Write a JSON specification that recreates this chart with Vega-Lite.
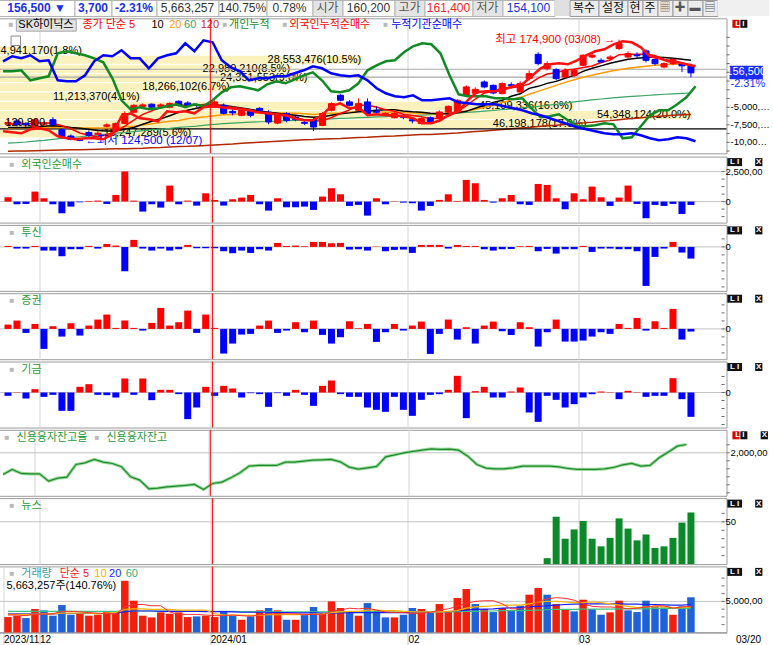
{
"$schema": "https://vega.github.io/schema/vega-lite/v6.json",
"padding": {"left": -4.5, "top": -1, "right": 0, "bottom": 0},
"background": "#ffffff",
"spacing": 0.3,
"config": {
  "view": {"stroke": "#9c9c9c", "strokeWidth": 1},
  "font": "Liberation Sans Narrow, Liberation Sans, Noto Sans CJK KR, sans-serif",
  "axis": {"labelColor": "#000000", "labelFontSize": 11, "titleColor": "#000000"},
  "text": {"fontSize": 11}
},
"datasets": {
"vp": [
{"lo":166000,"hi":171200,"mid":168600,"vol":4941170,"lab":"4,941,170(1.8%)"},
{"lo":161000,"hi":166000,"mid":163500,"vol":28553476,"lab":"28,553,476(10.5%)"},
{"lo":156100,"hi":161000,"mid":158500,"vol":22989210,"lab":"22,989,210(8.5%)"},
{"lo":151400,"hi":156100,"mid":153700,"vol":24351553,"lab":"24,351,553(9.0%)"},
{"lo":146800,"hi":151400,"mid":149100,"vol":18266102,"lab":"18,266,102(6.7%)"},
{"lo":142300,"hi":146800,"mid":144600,"vol":11213370,"lab":"11,213,370(4.1%)"},
{"lo":138000,"hi":142300,"mid":140200,"vol":45109336,"lab":"45,109,336(16.6%)"},
{"lo":133900,"hi":138000,"mid":135900,"vol":54348124,"lab":"54,348,124(20.0%)"},
{"lo":129800,"hi":133900,"mid":131800,"vol":46198178,"lab":"46,198,178(17.0%)"},
{"lo":125900,"hi":129800,"mid":127800,"vol":15247289,"lab":"15,247,289(5.6%)"}
],
"d": [
{"i":0,"o":131800,"h":134000,"l":130900,"c":132600,"m5":131800,"m10":130400,"m20":130200,"m60":123700,"m120":120400,"ind":143000,"frg":-8429000,"ins":1571000,"fn":361000,"tu":30000,"se":130000,"fu":-100000,"cr":1870000,"v":2470000,"vu":1,"v5":2800000,"v10":2900000,"v20":3000000,"v60":3400000},
{"i":1,"o":133200,"h":134000,"l":130900,"c":131600,"m5":132000,"m10":130400,"m20":130300,"m60":123900,"m120":120500,"ind":143000,"frg":-8571000,"ins":2286000,"fn":-222000,"tu":-50000,"se":250000,"fu":10000,"cr":1900000,"v":2690000,"vu":1,"v5":2800000,"v10":2900000,"v20":3000000,"v60":3400000},
{"i":2,"o":132200,"h":132600,"l":130900,"c":131500,"m5":132000,"m10":130400,"m20":130300,"m60":124200,"m120":120500,"ind":286000,"frg":-8714000,"ins":2000000,"fn":-194000,"tu":-50000,"se":-120000,"fu":-180000,"cr":1876000,"v":2310000,"vu":0,"v5":2700000,"v10":2900000,"v20":3000000,"v60":3400000},
{"i":3,"o":130600,"h":134400,"l":130200,"c":133800,"m5":132200,"m10":130700,"m20":130400,"m60":124600,"m120":120600,"ind":-1143000,"frg":-8143000,"ins":2429000,"fn":833000,"tu":30000,"se":150000,"fu":100000,"cr":1874000,"v":3770000,"vu":1,"v5":2900000,"v10":2950000,"v20":3000000,"v60":3400000},
{"i":4,"o":131800,"h":133100,"l":131300,"c":132200,"m5":132400,"m10":130900,"m20":130400,"m60":124900,"m120":120700,"ind":-857000,"frg":-8000000,"ins":1571000,"fn":278000,"tu":-110000,"se":-600000,"fu":-130000,"cr":1874000,"v":3550000,"vu":0,"v5":2950000,"v10":3000000,"v20":3000000,"v60":3400000},
{"i":5,"o":133800,"h":134900,"l":131300,"c":131600,"m5":132200,"m10":131100,"m20":130500,"m60":125300,"m120":120800,"ind":-571000,"frg":-8286000,"ins":1714000,"fn":-222000,"tu":-110000,"se":80000,"fu":-70000,"cr":1830000,"v":2690000,"vu":0,"v5":3000000,"v10":3000000,"v20":3000000,"v60":3400000},
{"i":6,"o":129400,"h":130000,"l":125700,"c":126300,"m5":131100,"m10":130900,"m20":130400,"m60":125700,"m120":120900,"ind":2714000,"frg":-9143000,"ins":-1143000,"fn":-972000,"tu":-280000,"se":-230000,"fu":-550000,"cr":1848000,"v":4410000,"vu":0,"v5":3400000,"v10":3100000,"v20":3050000,"v60":3400000},
{"i":7,"o":126700,"h":127400,"l":124900,"c":125300,"m5":129800,"m10":130400,"m20":130300,"m60":126000,"m120":121000,"ind":3000000,"frg":-9429000,"ins":-1286000,"fn":-417000,"tu":-70000,"se":170000,"fu":-550000,"cr":1854000,"v":2850000,"vu":0,"v5":3400000,"v10":3100000,"v20":3050000,"v60":3400000},
{"i":8,"o":125100,"h":125700,"l":124500,"c":124900,"m5":128000,"m10":130000,"m20":130200,"m60":126400,"m120":121000,"ind":2714000,"frg":-9571000,"ins":-1286000,"fn":-56000,"tu":-70000,"se":-200000,"fu":170000,"cr":1930000,"v":3120000,"vu":1,"v5":3300000,"v10":3100000,"v20":3050000,"v60":3400000},
{"i":9,"o":128200,"h":129100,"l":126200,"c":127000,"m5":127000,"m10":129600,"m20":130100,"m60":126800,"m120":121100,"ind":2429000,"frg":-9429000,"ins":-429000,"fn":56000,"tu":30000,"se":100000,"fu":250000,"cr":1940000,"v":2690000,"vu":1,"v5":3200000,"v10":3100000,"v20":3050000,"v60":3400000},
{"i":10,"o":127400,"h":128700,"l":127000,"c":127900,"m5":126300,"m10":129100,"m20":130100,"m60":127100,"m120":121200,"ind":2000000,"frg":-9429000,"ins":1571000,"fn":83000,"tu":-50000,"se":280000,"fu":-70000,"cr":1960000,"v":2850000,"vu":1,"v5":3100000,"v10":3000000,"v20":3050000,"v60":3400000},
{"i":11,"o":130900,"h":132200,"l":130400,"c":131500,"m5":127300,"m10":128900,"m20":130200,"m60":127500,"m120":121300,"ind":1429000,"frg":-9571000,"ins":2429000,"fn":-194000,"tu":90000,"se":430000,"fu":-80000,"cr":1944000,"v":3390000,"vu":1,"v5":3000000,"v10":3100000,"v20":3050000,"v60":3400000},
{"i":12,"o":129100,"h":132600,"l":128700,"c":132100,"m5":128600,"m10":128900,"m20":130300,"m60":127900,"m120":121400,"ind":-857000,"frg":-8857000,"ins":2286000,"fn":556000,"tu":40000,"se":30000,"fu":-150000,"cr":1936000,"v":3120000,"vu":1,"v5":3000000,"v10":3200000,"v20":3100000,"v60":3400000},
{"i":13,"o":132100,"h":137600,"l":131800,"c":136600,"m5":131000,"m10":129600,"m20":130700,"m60":128200,"m120":121400,"ind":-4000000,"frg":-6286000,"ins":3143000,"fn":2500000,"tu":-730000,"se":250000,"fu":420000,"cr":1916000,"v":8340000,"vu":1,"v5":4100000,"v10":3700000,"v20":3350000,"v60":3450000},
{"i":14,"o":137200,"h":140900,"l":136700,"c":140400,"m5":133600,"m10":130400,"m20":130900,"m60":128600,"m120":121500,"ind":-5286000,"frg":-5857000,"ins":2000000,"fn":83000,"tu":210000,"se":30000,"fu":-70000,"cr":1856000,"v":5110000,"vu":1,"v5":4500000,"v10":3800000,"v20":3450000,"v60":3450000},
{"i":15,"o":139900,"h":141300,"l":139500,"c":140600,"m5":136200,"m10":131800,"m20":131500,"m60":129000,"m120":121600,"ind":-5000000,"frg":-6571000,"ins":2000000,"fn":-833000,"tu":-50000,"se":-50000,"fu":420000,"cr":1836000,"v":2690000,"vu":1,"v5":4500000,"v10":3800000,"v20":3450000,"v60":3450000},
{"i":16,"o":140900,"h":141300,"l":139000,"c":139500,"m5":137800,"m10":133100,"m20":132000,"m60":129400,"m120":121800,"ind":-5286000,"frg":-6714000,"ins":571000,"fn":-222000,"tu":-110000,"se":180000,"fu":-230000,"cr":1784000,"v":2420000,"vu":1,"v5":4300000,"v10":3700000,"v20":3450000,"v60":3450000},
{"i":17,"o":139900,"h":141300,"l":139500,"c":140600,"m5":139500,"m10":134200,"m20":132600,"m60":129700,"m120":121900,"ind":-5143000,"frg":-7000000,"ins":2000000,"fn":-500000,"tu":-50000,"se":630000,"fu":80000,"cr":1788000,"v":3230000,"vu":1,"v5":4300000,"v10":3700000,"v20":3400000,"v60":3450000},
{"i":18,"o":139500,"h":141800,"l":139000,"c":141300,"m5":140500,"m10":135600,"m20":133100,"m60":130000,"m120":122100,"ind":-4857000,"frg":-5571000,"ins":2429000,"fn":1333000,"tu":-110000,"se":100000,"fu":80000,"cr":1796000,"v":3010000,"vu":1,"v5":3300000,"v10":3700000,"v20":3400000,"v60":3450000},
{"i":19,"o":142300,"h":142800,"l":139900,"c":140400,"m5":140500,"m10":137200,"m20":133500,"m60":130400,"m120":122300,"ind":-4571000,"frg":-5714000,"ins":2714000,"fn":-222000,"tu":-70000,"se":200000,"fu":-50000,"cr":1800000,"v":3230000,"vu":1,"v5":2900000,"v10":3600000,"v20":3400000,"v60":3450000},
{"i":20,"o":141500,"h":142300,"l":139900,"c":140400,"m5":140400,"m10":138100,"m20":134200,"m60":130700,"m120":122400,"ind":-5000000,"frg":-5571000,"ins":4143000,"fn":83000,"tu":60000,"se":550000,"fu":-800000,"cr":1804000,"v":2470000,"vu":1,"v5":2900000,"v10":3600000,"v20":3400000,"v60":3450000},
{"i":21,"o":140600,"h":141300,"l":139500,"c":140400,"m5":140600,"m10":139000,"m20":134700,"m60":131000,"m120":122600,"ind":-4571000,"frg":-5857000,"ins":3000000,"fn":-333000,"tu":-40000,"se":-120000,"fu":-450000,"cr":1810000,"v":2580000,"vu":0,"v5":2900000,"v10":3600000,"v20":3400000,"v60":3450000},
{"i":22,"o":139900,"h":141300,"l":139500,"c":140900,"m5":140700,"m10":139900,"m20":135100,"m60":131400,"m120":122800,"ind":-4857000,"frg":-5000000,"ins":4571000,"fn":694000,"tu":-40000,"se":430000,"fu":170000,"cr":1780000,"v":2690000,"vu":1,"v5":2800000,"v10":3600000,"v20":3350000,"v60":3450000},
{"i":23,"o":139600,"h":142800,"l":139200,"c":142000,"m5":140800,"m10":140400,"m20":135600,"m60":131700,"m120":123000,"ind":-4000000,"frg":-4857000,"ins":4286000,"fn":139000,"tu":-40000,"se":30000,"fu":-100000,"cr":1816000,"v":2470000,"vu":1,"v5":2700000,"v10":3000000,"v20":3350000,"v60":3400000},
{"i":24,"o":140400,"h":141300,"l":136200,"c":136700,"m5":140100,"m10":140400,"m20":136000,"m60":132100,"m120":123200,"ind":-2857000,"frg":-5000000,"ins":1714000,"fn":-333000,"tu":-130000,"se":-740000,"fu":200000,"cr":1824000,"v":3390000,"vu":0,"v5":2700000,"v10":2800000,"v20":3350000,"v60":3400000},
{"i":25,"o":137600,"h":139000,"l":135800,"c":136900,"m5":139400,"m10":139700,"m20":136200,"m60":132300,"m120":123400,"ind":-2143000,"frg":-5143000,"ins":714000,"fn":194000,"tu":-190000,"se":-440000,"fu":120000,"cr":1850000,"v":2740000,"vu":0,"v5":2800000,"v10":2800000,"v20":3300000,"v60":3400000},
{"i":26,"o":135800,"h":138500,"l":135300,"c":138100,"m5":138900,"m10":139200,"m20":136500,"m60":132500,"m120":123700,"ind":-2000000,"frg":-5286000,"ins":143000,"fn":333000,"tu":-110000,"se":-170000,"fu":-150000,"cr":1880000,"v":2040000,"vu":1,"v5":2700000,"v10":2800000,"v20":3250000,"v60":3350000},
{"i":27,"o":137800,"h":138500,"l":134900,"c":135800,"m5":137900,"m10":138500,"m20":136700,"m60":132700,"m120":123900,"ind":-2286000,"frg":-5429000,"ins":-1143000,"fn":556000,"tu":-180000,"se":-150000,"fu":-20000,"cr":1920000,"v":2580000,"vu":0,"v5":2600000,"v10":2750000,"v20":3250000,"v60":3350000},
{"i":28,"o":139000,"h":139500,"l":137600,"c":138100,"m5":137100,"m10":137800,"m20":136900,"m60":132900,"m120":124100,"ind":-2571000,"frg":-5714000,"ins":-857000,"fn":-222000,"tu":-70000,"se":100000,"fu":-50000,"cr":1924000,"v":3550000,"vu":1,"v5":2800000,"v10":2750000,"v20":3250000,"v60":3350000},
{"i":29,"o":137200,"h":138100,"l":131800,"c":132800,"m5":136300,"m10":137200,"m20":136900,"m60":133000,"m120":124300,"ind":-1714000,"frg":-5857000,"ins":-857000,"fn":-750000,"tu":-110000,"se":250000,"fu":-430000,"cr":1924000,"v":3930000,"vu":0,"v5":3000000,"v10":2850000,"v20":3250000,"v60":3350000},
{"i":30,"o":132300,"h":136700,"l":131800,"c":136100,"m5":136200,"m10":136700,"m20":136900,"m60":133200,"m120":124500,"ind":-1286000,"frg":-6000000,"ins":-571000,"fn":278000,"tu":120000,"se":-120000,"fu":-20000,"cr":1924000,"v":3550000,"vu":1,"v5":3000000,"v10":2900000,"v20":3200000,"v60":3300000},
{"i":31,"o":136600,"h":137200,"l":132600,"c":133500,"m5":135200,"m10":136200,"m20":136900,"m60":133400,"m120":124700,"ind":-1571000,"frg":-6143000,"ins":-571000,"fn":-472000,"tu":30000,"se":-50000,"fu":-100000,"cr":1944000,"v":2040000,"vu":0,"v5":3000000,"v10":2850000,"v20":3200000,"v60":3300000},
{"i":32,"o":135000,"h":135800,"l":133100,"c":133800,"m5":134800,"m10":135800,"m20":136700,"m60":133500,"m120":124900,"ind":-1000000,"frg":-6571000,"ins":-143000,"fn":-472000,"tu":40000,"se":200000,"fu":80000,"cr":1944000,"v":2040000,"vu":1,"v5":3000000,"v10":2850000,"v20":3150000,"v60":3300000},
{"i":33,"o":132600,"h":133500,"l":131500,"c":132200,"m5":133700,"m10":135300,"m20":136500,"m60":133700,"m120":125100,"ind":-429000,"frg":-6857000,"ins":286000,"fn":-417000,"tu":20000,"se":-100000,"fu":-70000,"cr":1950000,"v":2850000,"vu":0,"v5":2900000,"v10":2850000,"v20":3150000,"v60":3300000},
{"i":34,"o":133800,"h":134900,"l":128800,"c":130600,"m5":133200,"m10":134900,"m20":136200,"m60":133900,"m120":125200,"ind":0,"frg":-6857000,"ins":857000,"fn":-694000,"tu":150000,"se":250000,"fu":-400000,"cr":1956000,"v":4090000,"vu":0,"v5":2900000,"v10":2950000,"v20":3150000,"v60":3300000},
{"i":35,"o":131300,"h":137200,"l":130900,"c":136600,"m5":133300,"m10":135100,"m20":136500,"m60":134000,"m120":125400,"ind":-1143000,"frg":-6143000,"ins":571000,"fn":417000,"tu":150000,"se":-180000,"fu":200000,"cr":1958000,"v":3120000,"vu":1,"v5":2800000,"v10":3000000,"v20":3100000,"v60":3300000},
{"i":36,"o":138100,"h":141800,"l":137600,"c":141200,"m5":134800,"m10":135800,"m20":136700,"m60":134200,"m120":125600,"ind":-2714000,"frg":-4857000,"ins":-143000,"fn":1111000,"tu":110000,"se":-440000,"fu":360000,"cr":1960000,"v":5000000,"vu":1,"v5":3400000,"v10":3200000,"v20":3100000,"v60":3300000},
{"i":37,"o":145200,"h":145700,"l":142300,"c":142800,"m5":136600,"m10":136500,"m20":136900,"m60":134400,"m120":125700,"ind":-2857000,"frg":-4429000,"ins":-429000,"fn":611000,"tu":120000,"se":-250000,"fu":-50000,"cr":1946000,"v":3930000,"vu":1,"v5":3600000,"v10":3300000,"v20":3150000,"v60":3300000},
{"i":38,"o":142000,"h":142800,"l":139900,"c":140400,"m5":138300,"m10":136900,"m20":137200,"m60":134500,"m120":125900,"ind":-2571000,"frg":-5143000,"ins":-571000,"fn":-361000,"tu":-80000,"se":230000,"fu":-130000,"cr":1914000,"v":3120000,"vu":0,"v5":3900000,"v10":3400000,"v20":3200000,"v60":3300000},
{"i":39,"o":138100,"h":143700,"l":137600,"c":141200,"m5":140400,"m10":137400,"m20":137400,"m60":134700,"m120":126100,"ind":-1571000,"frg":-5000000,"ins":-429000,"fn":-278000,"tu":-70000,"se":20000,"fu":-130000,"cr":1902000,"v":2690000,"vu":1,"v5":3800000,"v10":3400000,"v20":3200000,"v60":3300000},
{"i":40,"o":142000,"h":143700,"l":135800,"c":136600,"m5":140400,"m10":137600,"m20":137400,"m60":134900,"m120":126200,"ind":286000,"frg":-6143000,"ins":-1143000,"fn":-1167000,"tu":-110000,"se":150000,"fu":-450000,"cr":1910000,"v":4730000,"vu":0,"v5":3900000,"v10":3600000,"v20":3200000,"v60":3300000},
{"i":41,"o":137600,"h":139900,"l":136200,"c":137200,"m5":139600,"m10":138100,"m20":137400,"m60":135100,"m120":126400,"ind":1000000,"frg":-6000000,"ins":-2286000,"fn":278000,"tu":10000,"se":-390000,"fu":-520000,"cr":1918000,"v":3550000,"vu":0,"v5":3600000,"v10":3600000,"v20":3200000,"v60":3300000},
{"i":42,"o":135800,"h":137200,"l":135300,"c":136600,"m5":138300,"m10":138300,"m20":137200,"m60":135200,"m120":126600,"ind":1571000,"frg":-6143000,"ins":-3000000,"fn":-222000,"tu":-130000,"se":-100000,"fu":-580000,"cr":1976000,"v":2420000,"vu":0,"v5":3300000,"v10":3500000,"v20":3200000,"v60":3300000},
{"i":43,"o":134700,"h":137200,"l":134400,"c":136600,"m5":137600,"m10":138300,"m20":137200,"m60":135400,"m120":126700,"ind":1714000,"frg":-6143000,"ins":-3429000,"fn":28000,"tu":-90000,"se":150000,"fu":-130000,"cr":1988000,"v":2420000,"vu":1,"v5":3200000,"v10":3500000,"v20":3200000,"v60":3300000},
{"i":44,"o":135300,"h":136200,"l":134000,"c":134900,"m5":136300,"m10":137800,"m20":137200,"m60":135600,"m120":126900,"ind":2857000,"frg":-6286000,"ins":-3571000,"fn":-83000,"tu":-80000,"se":-50000,"fu":-520000,"cr":2000000,"v":2850000,"vu":0,"v5":3200000,"v10":3400000,"v20":3200000,"v60":3300000},
{"i":45,"o":133800,"h":134900,"l":132200,"c":133300,"m5":135700,"m10":137400,"m20":136900,"m60":135700,"m120":127100,"ind":3714000,"frg":-6571000,"ins":-3286000,"fn":-139000,"tu":-180000,"se":100000,"fu":-700000,"cr":2008000,"v":3930000,"vu":0,"v5":3000000,"v10":3300000,"v20":3250000,"v60":3300000},
{"i":46,"o":132100,"h":134900,"l":131800,"c":134300,"m5":135100,"m10":137200,"m20":136700,"m60":135900,"m120":127300,"ind":4143000,"frg":-7286000,"ins":-4000000,"fn":-750000,"tu":60000,"se":220000,"fu":-220000,"cr":2016000,"v":3770000,"vu":1,"v5":3100000,"v10":3300000,"v20":3300000,"v60":3300000},
{"i":47,"o":134700,"h":135300,"l":131800,"c":132300,"m5":134300,"m10":136700,"m20":136500,"m60":136100,"m120":127400,"ind":4000000,"frg":-7286000,"ins":-4000000,"fn":-361000,"tu":60000,"se":-750000,"fu":-70000,"cr":2024000,"v":3120000,"vu":0,"v5":3200000,"v10":3300000,"v20":3300000,"v60":3300000},
{"i":48,"o":134300,"h":138100,"l":134000,"c":137300,"m5":134400,"m10":136500,"m20":136500,"m60":136300,"m120":127600,"ind":2714000,"frg":-6857000,"ins":-3857000,"fn":139000,"tu":60000,"se":-150000,"fu":-50000,"cr":2020000,"v":4570000,"vu":1,"v5":3600000,"v10":3300000,"v20":3350000,"v60":3300000},
{"i":49,"o":137200,"h":140400,"l":136700,"c":139900,"m5":135400,"m10":136500,"m20":136500,"m60":136600,"m120":127800,"ind":-429000,"frg":-6000000,"ins":-3714000,"fn":611000,"tu":-50000,"se":280000,"fu":80000,"cr":2022000,"v":3390000,"vu":1,"v5":3800000,"v10":3400000,"v20":3350000,"v60":3300000},
{"i":50,"o":137300,"h":143300,"l":136900,"c":142800,"m5":137300,"m10":136900,"m20":137200,"m60":136800,"m120":128000,"ind":-3143000,"frg":-5571000,"ins":-4286000,"fn":56000,"tu":60000,"se":-320000,"fu":500000,"cr":2016000,"v":5540000,"vu":1,"v5":4200000,"v10":3500000,"v20":3450000,"v60":3350000},
{"i":51,"o":145200,"h":150100,"l":144700,"c":149300,"m5":140200,"m10":137600,"m20":137800,"m60":137100,"m120":128300,"ind":-3429000,"frg":-4000000,"ins":-4429000,"fn":1806000,"tu":30000,"se":50000,"fu":-770000,"cr":1980000,"v":6990000,"vu":1,"v5":4700000,"v10":3900000,"v20":3600000,"v60":3400000},
{"i":52,"o":146200,"h":149100,"l":145700,"c":148100,"m5":143400,"m10":139000,"m20":138500,"m60":137400,"m120":128600,"ind":-3429000,"frg":-2857000,"ins":-4571000,"fn":1528000,"tu":30000,"se":-440000,"fu":40000,"cr":1930000,"v":4570000,"vu":0,"v5":5000000,"v10":4100000,"v20":3700000,"v60":3400000},
{"i":53,"o":151800,"h":152600,"l":148600,"c":149300,"m5":146300,"m10":140400,"m20":139500,"m60":137700,"m120":128900,"ind":-3429000,"frg":-2714000,"ins":-4571000,"fn":139000,"tu":-70000,"se":100000,"fu":170000,"cr":1908000,"v":3770000,"vu":1,"v5":5100000,"v10":4200000,"v20":3750000,"v60":3450000},
{"i":54,"o":150100,"h":150600,"l":145700,"c":146300,"m5":147100,"m10":141800,"m20":140400,"m60":138000,"m120":129200,"ind":-3714000,"frg":-2714000,"ins":-4571000,"fn":-83000,"tu":-110000,"se":220000,"fu":-150000,"cr":1904000,"v":3280000,"vu":0,"v5":5100000,"v10":4300000,"v20":3800000,"v60":3450000},
{"i":55,"o":146000,"h":151600,"l":145700,"c":151000,"m5":148800,"m10":142800,"m20":141800,"m60":138400,"m120":129500,"ind":-3714000,"frg":-2429000,"ins":-4857000,"fn":278000,"tu":-70000,"se":-70000,"fu":-150000,"cr":1904000,"v":3930000,"vu":1,"v5":4600000,"v10":4400000,"v20":3900000,"v60":3500000},
{"i":56,"o":150400,"h":151600,"l":148600,"c":149900,"m5":148900,"m10":144700,"m20":143000,"m60":138700,"m120":129800,"ind":-3857000,"frg":-2000000,"ins":-5143000,"fn":556000,"tu":-60000,"se":-180000,"fu":30000,"cr":1910000,"v":3500000,"vu":0,"v5":3800000,"v10":4400000,"v20":3950000,"v60":3500000},
{"i":57,"o":146800,"h":152100,"l":146600,"c":151000,"m5":149500,"m10":145900,"m20":144200,"m60":139100,"m120":130100,"ind":-3714000,"frg":-1714000,"ins":-5429000,"fn":-222000,"tu":20000,"se":200000,"fu":150000,"cr":1920000,"v":4300000,"vu":0,"v5":3800000,"v10":4400000,"v20":4000000,"v60":3500000},
{"i":58,"o":153500,"h":157800,"l":152600,"c":156100,"m5":150800,"m10":148600,"m20":145700,"m60":139500,"m120":130400,"ind":-5143000,"frg":-571000,"ins":-5857000,"fn":-278000,"tu":30000,"se":50000,"fu":-600000,"cr":1920000,"v":6080000,"vu":1,"v5":4200000,"v10":4600000,"v20":4100000,"v60":3550000},
{"i":59,"o":166500,"h":167600,"l":160500,"c":161400,"m5":153800,"m10":149600,"m20":147100,"m60":139900,"m120":130800,"ind":-6429000,"frg":571000,"ins":-6143000,"fn":1472000,"tu":-130000,"se":-530000,"fu":-880000,"cr":1920000,"v":7160000,"vu":1,"v5":5000000,"v10":4900000,"v20":4200000,"v60":3600000},
{"i":60,"o":158700,"h":162700,"l":157800,"c":161400,"m5":155900,"m10":151100,"m20":148600,"m60":140400,"m120":131100,"ind":-6286000,"frg":1143000,"ins":-6571000,"fn":1389000,"tu":-60000,"se":-100000,"fu":-100000,"cr":1920000,"nw":7,"v":6080000,"vu":0,"v5":5400000,"v10":5000000,"v20":4300000,"v60":3650000},
{"i":61,"o":158200,"h":158900,"l":152600,"c":153500,"m5":156600,"m10":152100,"m20":150100,"m60":140900,"m120":131300,"ind":-6000000,"frg":1286000,"ins":-7000000,"fn":278000,"tu":-200000,"se":280000,"fu":-220000,"cr":1916000,"nw":56,"v":4570000,"vu":1,"v5":5600000,"v10":5000000,"v20":4400000,"v60":3700000},
{"i":62,"o":154300,"h":158900,"l":153700,"c":157800,"m5":158000,"m10":153700,"m20":151600,"m60":141400,"m120":131700,"ind":-6857000,"frg":1143000,"ins":-7429000,"fn":-639000,"tu":-70000,"se":-380000,"fu":-450000,"cr":1906000,"nw":30,"v":3770000,"vu":1,"v5":5500000,"v10":4900000,"v20":4500000,"v60":3700000},
{"i":63,"o":155200,"h":158900,"l":154200,"c":157800,"m5":158400,"m10":155200,"m20":152900,"m60":142000,"m120":132000,"ind":-7714000,"frg":1714000,"ins":-7857000,"fn":694000,"tu":-70000,"se":-380000,"fu":-350000,"cr":1900000,"nw":41,"v":3390000,"vu":0,"v5":5200000,"v10":4800000,"v20":4550000,"v60":3700000},
{"i":64,"o":160500,"h":166500,"l":160000,"c":166000,"m5":159300,"m10":157300,"m20":154200,"m60":142500,"m120":132400,"ind":-7714000,"frg":2429000,"ins":-8143000,"fn":194000,"tu":30000,"se":-350000,"fu":-150000,"cr":1900000,"nw":51,"v":5270000,"vu":1,"v5":4600000,"v10":4800000,"v20":4600000,"v60":3750000},
{"i":65,"o":165000,"h":167100,"l":164300,"c":166000,"m5":160100,"m10":158900,"m20":155200,"m60":143000,"m120":132700,"ind":-7571000,"frg":3000000,"ins":-8429000,"fn":1250000,"tu":-150000,"se":-230000,"fu":-50000,"cr":1900000,"nw":30,"v":3770000,"vu":0,"v5":4200000,"v10":4900000,"v20":4600000,"v60":3750000},
{"i":66,"o":163200,"h":164300,"l":161600,"c":162300,"m5":162000,"m10":160200,"m20":156300,"m60":143400,"m120":133100,"ind":-7286000,"frg":3286000,"ins":-8714000,"fn":361000,"tu":-50000,"se":-100000,"fu":30000,"cr":1904000,"nw":21,"v":2850000,"vu":0,"v5":4100000,"v10":4800000,"v20":4600000,"v60":3750000},
{"i":67,"o":164100,"h":166000,"l":163200,"c":165000,"m5":163400,"m10":161600,"m20":157300,"m60":143800,"m120":133400,"ind":-7429000,"frg":4000000,"ins":-8857000,"fn":-361000,"tu":-50000,"se":-150000,"fu":10000,"cr":1912000,"nw":31,"v":3230000,"vu":1,"v5":4100000,"v10":4600000,"v20":4600000,"v60":3750000},
{"i":68,"o":169800,"h":174900,"l":168800,"c":172600,"m5":166300,"m10":162700,"m20":158100,"m60":144200,"m120":133800,"ind":-9429000,"frg":4429000,"ins":-8857000,"fn":333000,"tu":-70000,"se":150000,"fu":-200000,"cr":1928000,"nw":54,"v":5110000,"vu":1,"v5":4000000,"v10":4400000,"v20":4600000,"v60":3800000},
{"i":69,"o":165000,"h":168200,"l":164300,"c":166900,"m5":166500,"m10":163800,"m20":158900,"m60":144500,"m120":134200,"ind":-9286000,"frg":4286000,"ins":-8714000,"fn":1333000,"tu":-70000,"se":30000,"fu":50000,"cr":1936000,"nw":42,"v":3550000,"vu":0,"v5":3800000,"v10":4200000,"v20":4550000,"v60":3800000},
{"i":70,"o":166200,"h":167600,"l":164300,"c":165700,"m5":166500,"m10":164300,"m20":159400,"m60":144800,"m120":134500,"ind":-7714000,"frg":3571000,"ins":-9000000,"fn":-194000,"tu":-130000,"se":330000,"fu":10000,"cr":1920000,"nw":28,"v":3280000,"vu":0,"v5":3900000,"v10":4000000,"v20":4550000,"v60":3800000},
{"i":71,"o":168400,"h":169300,"l":162100,"c":163200,"m5":166600,"m10":164800,"m20":160000,"m60":145100,"m120":134900,"ind":-6143000,"frg":2286000,"ins":-9429000,"fn":-1389000,"tu":-1170000,"se":-50000,"fu":-130000,"cr":1924000,"nw":35,"v":5110000,"vu":0,"v5":4100000,"v10":4100000,"v20":4500000,"v60":3800000},
{"i":72,"o":163600,"h":164300,"l":160500,"c":161400,"m5":165800,"m10":165000,"m20":160500,"m60":145400,"m120":135200,"ind":-5429000,"frg":2000000,"ins":-9714000,"fn":-278000,"tu":-300000,"se":230000,"fu":-100000,"cr":1970000,"nw":19,"v":4200000,"vu":0,"v5":4300000,"v10":4100000,"v20":4500000,"v60":3850000},
{"i":73,"o":159600,"h":162100,"l":158900,"c":161400,"m5":163700,"m10":164800,"m20":160800,"m60":145700,"m120":135500,"ind":-5429000,"frg":1571000,"ins":-9571000,"fn":-361000,"tu":-50000,"se":30000,"fu":-100000,"cr":2004000,"nw":21,"v":4030000,"vu":0,"v5":4300000,"v10":4100000,"v20":4450000,"v60":3850000},
{"i":74,"o":161400,"h":164300,"l":160500,"c":163600,"m5":163000,"m10":164300,"m20":161000,"m60":145900,"m120":135800,"ind":-4571000,"frg":1429000,"ins":-9286000,"fn":-194000,"tu":150000,"se":600000,"fu":430000,"cr":2040000,"nw":31,"v":2850000,"vu":1,"v5":3900000,"v10":4000000,"v20":4400000,"v60":3850000},
{"i":75,"o":161400,"h":162100,"l":156900,"c":160200,"m5":161800,"m10":163800,"m20":161000,"m60":146100,"m120":136100,"ind":-3571000,"frg":1143000,"ins":-9429000,"fn":-1028000,"tu":-170000,"se":-320000,"fu":-200000,"cr":2050000,"nw":49,"v":4200000,"vu":0,"v5":4100000,"v10":4000000,"v20":4400000,"v60":3850000},
{"i":76,"o":160200,"h":161400,"l":154100,"c":156500,"m5":160700,"m10":163200,"m20":160200,"m60":146300,"m120":136200,"ind":-2000000,"frg":857000,"ins":-9857000,"fn":-278000,"tu":-350000,"se":-80000,"fu":-730000,"nw":61,"v":5663257,"vu":0,"v5":4200000,"v10":4100000,"v20":4500000,"v60":3900000}
]
},
"vconcat": [
{
 "hconcat": [
  {"width": 76, "height": 16, "view": {"fill": "#ffffff", "stroke": "#b4b4b4"}, "data": {"values": [{}]}, "mark": {"type": "text", "fontSize": 12, "fontWeight": "bold", "color": "#1a30e8"}, "encoding": {"text": {"value": "156,500 ▼"}}},
  {"width": 37, "height": 16, "view": {"fill": "#ffffff", "stroke": "#b4b4b4"}, "data": {"values": [{}]}, "mark": {"type": "text", "fontSize": 12, "fontWeight": "bold", "color": "#1a30e8"}, "encoding": {"text": {"value": "3,700"}}},
  {"width": 45, "height": 16, "view": {"fill": "#ffffff", "stroke": "#b4b4b4"}, "data": {"values": [{}]}, "mark": {"type": "text", "fontSize": 12, "fontWeight": "bold", "color": "#1a30e8"}, "encoding": {"text": {"value": "-2.31%"}}},
  {"width": 62, "height": 16, "view": {"fill": "#ffffff", "stroke": "#b4b4b4"}, "data": {"values": [{}]}, "mark": {"type": "text", "fontSize": 12, "color": "#333333"}, "encoding": {"text": {"value": "5,663,257"}}},
  {"width": 48, "height": 16, "view": {"fill": "#ffffff", "stroke": "#b4b4b4"}, "data": {"values": [{}]}, "mark": {"type": "text", "fontSize": 12, "color": "#333333"}, "encoding": {"text": {"value": "140.75%"}}},
  {"width": 46, "height": 16, "view": {"fill": "#ffffff", "stroke": "#b4b4b4"}, "data": {"values": [{}]}, "mark": {"type": "text", "fontSize": 12, "color": "#333333"}, "encoding": {"text": {"value": "0.78%"}}},
  {"width": 30, "height": 16, "view": {"fill": "#e4e4e4", "stroke": "#b4b4b4"}, "data": {"values": [{}]}, "mark": {"type": "text", "fontSize": 12, "color": "#555555"}, "encoding": {"text": {"value": "시가"}}},
  {"width": 52, "height": 16, "view": {"fill": "#ffffff", "stroke": "#b4b4b4"}, "data": {"values": [{}]}, "mark": {"type": "text", "fontSize": 12, "color": "#333333"}, "encoding": {"text": {"value": "160,200"}}},
  {"width": 30, "height": 16, "view": {"fill": "#e4e4e4", "stroke": "#b4b4b4"}, "data": {"values": [{}]}, "mark": {"type": "text", "fontSize": 12, "color": "#555555"}, "encoding": {"text": {"value": "고가"}}},
  {"width": 48, "height": 16, "view": {"fill": "#ffffff", "stroke": "#b4b4b4"}, "data": {"values": [{}]}, "mark": {"type": "text", "fontSize": 12, "color": "#ff2020"}, "encoding": {"text": {"value": "161,400"}}},
  {"width": 30, "height": 16, "view": {"fill": "#e4e4e4", "stroke": "#b4b4b4"}, "data": {"values": [{}]}, "mark": {"type": "text", "fontSize": 12, "color": "#555555"}, "encoding": {"text": {"value": "저가"}}},
  {"width": 52, "height": 16, "view": {"fill": "#ffffff", "stroke": "#b4b4b4"}, "data": {"values": [{}]}, "mark": {"type": "text", "fontSize": 12, "color": "#1a30e8"}, "encoding": {"text": {"value": "154,100"}}},
  {"width": 15, "height": 16, "view": {"fill": "#e0e0e0", "stroke": null}, "data": {"values": [{}]}, "mark": {"type": "text", "fontSize": 12}, "encoding": {"text": {"value": ""}}},
  {"width": 29, "height": 16, "view": {"fill": "#ececec", "stroke": "#9a9a9a"}, "data": {"values": [{}]}, "mark": {"type": "text", "fontSize": 12, "color": "#111111"}, "encoding": {"text": {"value": "복수"}}},
  {"width": 29, "height": 16, "view": {"fill": "#ececec", "stroke": "#9a9a9a"}, "data": {"values": [{}]}, "mark": {"type": "text", "fontSize": 12, "color": "#111111"}, "encoding": {"text": {"value": "설정"}}},
  {"width": 15, "height": 16, "view": {"fill": "#ececec", "stroke": "#9a9a9a"}, "data": {"values": [{}]}, "mark": {"type": "text", "fontSize": 12, "color": "#111111"}, "encoding": {"text": {"value": "현"}}},
  {"width": 15, "height": 16, "view": {"fill": "#ececec", "stroke": "#9a9a9a"}, "data": {"values": [{}]}, "mark": {"type": "text", "fontSize": 12, "color": "#111111"}, "encoding": {"text": {"value": "주"}}},
  {"width": 15, "height": 16, "view": {"fill": "#ececec", "stroke": "#9a9a9a"}, "data": {"values": [{}]}, "mark": {"type": "text", "fontSize": 11, "color": "#777777"}, "encoding": {"text": {"value": "▦"}}},
  {"width": 15, "height": 16, "view": {"fill": "#ececec", "stroke": "#9a9a9a"}, "data": {"values": [{}]}, "mark": {"type": "text", "fontSize": 11, "color": "#555555"}, "encoding": {"text": {"value": "✚"}}},
  {"width": 15, "height": 16, "view": {"fill": "#ececec", "stroke": "#9a9a9a"}, "data": {"values": [{}]}, "mark": {"type": "text", "fontSize": 11, "color": "#555555"}, "encoding": {"text": {"value": "▬"}}},
  {"width": 15, "height": 16, "view": {"fill": "#ececec", "stroke": "#9a9a9a"}, "data": {"values": [{}]}, "mark": {"type": "text", "fontSize": 11, "color": "#555555"}, "encoding": {"text": {"value": "▤"}}},
  {"width": 52, "height": 16, "view": {"fill": "#f0f0f0", "stroke": null}, "data": {"values": [{}]}, "mark": {"type": "text", "fontSize": 12}, "encoding": {"text": {"value": ""}}}
 ],
 "spacing": 0,
 "bounds": "flush"
},
{
 "width": 728, "height": 135,
 "layer": [
  {
   "data": {"name": "vp"},
   "layer": [
    {"mark": {"type": "rect", "fill": "#fbf1bc", "stroke": "#ffffff", "strokeWidth": 1},
     "encoding": {
      "x": {"field": "vol", "type": "quantitative", "scale": {"domain": [0, 57011000], "nice": false, "zero": true}, "axis": null},
      "x2": {"datum": 0},
      "y": {"field": "hi", "type": "quantitative", "scale": {"type": "log", "domain": [119595, 187810], "nice": false, "zero": false}, "axis": null},
      "y2": {"field": "lo"}}},
    {"transform": [{"filter": "datum.vol >= 8000000"}],
     "mark": {"type": "text", "align": "right", "baseline": "middle", "dx": -2, "color": "#000000"},
     "encoding": {
      "x": {"field": "vol", "type": "quantitative", "axis": null},
      "y": {"field": "mid", "type": "quantitative", "axis": null},
      "text": {"field": "lab"}}},
    {"transform": [{"filter": "datum.vol < 8000000"}],
     "mark": {"type": "text", "align": "left", "baseline": "middle", "dx": 2, "color": "#000000"},
     "encoding": {
      "x": {"datum": 0, "axis": null},
      "y": {"field": "mid", "type": "quantitative", "axis": null},
      "text": {"field": "lab"}}}
   ]
  },
  {
   "data": {"name": "d"},
   "layer": [
    {"mark": {"type": "line", "color": "#b02800", "strokeWidth": 1.5},
     "encoding": {"x": {"field": "i", "type": "quantitative", "scale": {"domain": [-0.5, 79.4], "nice": false, "zero": false}, "axis": {"orient": "bottom", "values": [3.5, 22.5, 44.5, 63.5], "grid": true, "gridColor": "#d4d4d4", "labels": false, "ticks": false, "domain": false, "title": null}},
      "y": {"field": "m120", "type": "quantitative", "scale": {"type": "log", "domain": [119595, 187810], "nice": false, "zero": false}, "axis": null}}},
    {"data": {"values": [{"p": 129800}]}, "mark": {"type": "rule", "color": "#000000", "strokeWidth": 1.3},
     "encoding": {"y": {"field": "p", "type": "quantitative", "axis": null}}},
    {"data": {"values": [{"p": 158400}, {"p": 154300}]}, "mark": {"type": "rule", "color": "#a8a8a8", "strokeWidth": 1.2},
     "encoding": {"y": {"field": "p", "type": "quantitative", "axis": null}}},
    {"mark": {"type": "line", "color": "#3aa564", "strokeWidth": 1.2},
     "encoding": {"x": {"field": "i", "type": "quantitative"}, "y": {"field": "m60", "type": "quantitative", "axis": null}}},
    {"mark": {"type": "line", "color": "#ff9a00", "strokeWidth": 1.5},
     "encoding": {"x": {"field": "i", "type": "quantitative"}, "y": {"field": "m20", "type": "quantitative", "axis": null}}},
    {"mark": {"type": "line", "color": "#000000", "strokeWidth": 1.5},
     "encoding": {"x": {"field": "i", "type": "quantitative"}, "y": {"field": "m10", "type": "quantitative", "axis": null}}},
    {"mark": {"type": "line", "color": "#ff0000", "strokeWidth": 1.5},
     "encoding": {"x": {"field": "i", "type": "quantitative"}, "y": {"field": "m5", "type": "quantitative", "axis": null}}},
    {"mark": {"type": "rule", "strokeWidth": 1},
     "encoding": {"x": {"field": "i", "type": "quantitative"}, "y": {"field": "l", "type": "quantitative", "axis": null}, "y2": {"field": "h"},
      "color": {"condition": {"test": "datum.c >= datum.o", "value": "#ff0000"}, "value": "#0000ff"}}},
    {"mark": {"type": "bar", "width": 6, "orient": "vertical", "strokeWidth": 1},
     "encoding": {"x": {"field": "i", "type": "quantitative"}, "y": {"field": "o", "type": "quantitative", "axis": null}, "y2": {"field": "c"},
      "color": {"condition": {"test": "datum.c >= datum.o", "value": "#ff0000"}, "value": "#0000ff"},
      "stroke": {"condition": {"test": "datum.c >= datum.o", "value": "#ff0000"}, "value": "#0000ff"}}},
    {"data": {"values": [{}]}, "mark": {"type": "text", "align": "left", "baseline": "bottom", "dy": -1, "color": "#000000"},
     "encoding": {"x": {"datum": -0.3}, "y": {"datum": 129800, "axis": null}, "text": {"value": "129,800"}}},
    {"data": {"values": [{}]}, "mark": {"type": "text", "align": "right", "baseline": "middle", "color": "#ff0000", "fontSize": 11.5},
     "encoding": {"x": {"datum": 67.6}, "y": {"datum": 174900, "axis": null}, "text": {"value": "최고 174,900 (03/08) →"}}},
    {"data": {"values": [{}]}, "mark": {"type": "text", "align": "left", "baseline": "middle", "color": "#0000ff", "fontSize": 11.5},
     "encoding": {"x": {"datum": 8.6}, "y": {"datum": 124500, "axis": null}, "text": {"value": "←최저 124,500 (12/07)"}}},
    {"data": {"values": [{}]}, "mark": {"type": "rect", "fill": "#e2e2e2", "stroke": "#a8a8a8", "strokeWidth": 1},
     "encoding": {"x": {"datum": 0.93}, "x2": {"datum": 7.6}, "y": {"datum": 187000, "axis": null}, "y2": {"datum": 179900}}},
    {"data": {"values": [{}]}, "mark": {"type": "point", "shape": "square", "size": 90, "filled": true, "fill": "#ffffff", "stroke": "#8a8a8a", "strokeWidth": 1, "opacity": 1},
     "encoding": {"x": {"datum": 0.87}, "y": {"datum": 174200, "axis": null}}},
    {"data": {"values": [{}]}, "mark": {"type": "text", "align": "left", "baseline": "middle", "color": "#b8b8b8", "fontSize": 8},
     "encoding": {"x": {"datum": 0.05}, "y": {"datum": 183465, "axis": null}, "text": {"value": "■"}}},
    {"data": {"values": [{}]}, "mark": {"type": "text", "align": "left", "baseline": "middle", "color": "#000000"},
     "encoding": {"x": {"datum": 1.15}, "y": {"datum": 183465, "axis": null}, "text": {"value": "SK하이닉스"}}},
    {"data": {"values": [{}]}, "mark": {"type": "text", "align": "left", "baseline": "middle", "color": "#ff0000"},
     "encoding": {"x": {"datum": 8.28}, "y": {"datum": 183465, "axis": null}, "text": {"value": "종가 단순 5"}}},
    {"data": {"values": [{}]}, "mark": {"type": "text", "align": "left", "baseline": "middle", "color": "#000000"},
     "encoding": {"x": {"datum": 15.97}, "y": {"datum": 183465, "axis": null}, "text": {"value": "10"}}},
    {"data": {"values": [{}]}, "mark": {"type": "text", "align": "left", "baseline": "middle", "color": "#ff9a00"},
     "encoding": {"x": {"datum": 17.94}, "y": {"datum": 183465, "axis": null}, "text": {"value": "20"}}},
    {"data": {"values": [{}]}, "mark": {"type": "text", "align": "left", "baseline": "middle", "color": "#3aa564"},
     "encoding": {"x": {"datum": 19.6}, "y": {"datum": 183465, "axis": null}, "text": {"value": "60"}}},
    {"data": {"values": [{}]}, "mark": {"type": "text", "align": "left", "baseline": "middle", "color": "#c03020"},
     "encoding": {"x": {"datum": 21.45}, "y": {"datum": 183465, "axis": null}, "text": {"value": "120"}}},
    {"data": {"values": [{}]}, "mark": {"type": "text", "align": "left", "baseline": "middle", "color": "#b8b8b8", "fontSize": 8},
     "encoding": {"x": {"datum": 23.87}, "y": {"datum": 183465, "axis": null}, "text": {"value": "■"}}},
    {"data": {"values": [{}]}, "mark": {"type": "text", "align": "left", "baseline": "middle", "color": "#1a8a2a"},
     "encoding": {"x": {"datum": 24.6}, "y": {"datum": 183465, "axis": null}, "text": {"value": "개인누적"}}},
    {"data": {"values": [{}]}, "mark": {"type": "text", "align": "left", "baseline": "middle", "color": "#b8b8b8", "fontSize": 8},
     "encoding": {"x": {"datum": 30.56}, "y": {"datum": 183465, "axis": null}, "text": {"value": "■"}}},
    {"data": {"values": [{}]}, "mark": {"type": "text", "align": "left", "baseline": "middle", "color": "#ff0000"},
     "encoding": {"x": {"datum": 31.3}, "y": {"datum": 183465, "axis": null}, "text": {"value": "외국인누적순매수"}}},
    {"data": {"values": [{}]}, "mark": {"type": "text", "align": "left", "baseline": "middle", "color": "#b8b8b8", "fontSize": 8},
     "encoding": {"x": {"datum": 41.76}, "y": {"datum": 183465, "axis": null}, "text": {"value": "■"}}},
    {"data": {"values": [{}]}, "mark": {"type": "text", "align": "left", "baseline": "middle", "color": "#0000ff"},
     "encoding": {"x": {"datum": 42.64}, "y": {"datum": 183465, "axis": null}, "text": {"value": "누적기관순매수"}}},
    {"data": {"values": [{}]}, "mark": {"type": "rect", "fill": "#1a2cff"},
     "encoding": {"x": {"datum": 80.3}, "x2": {"datum": 84.0}, "y": {"datum": 160200, "axis": null}, "y2": {"datum": 153200}}},
    {"data": {"values": [{}]}, "mark": {"type": "text", "align": "center", "baseline": "middle", "color": "#ffffff", "dy": -1},
     "encoding": {"x": {"datum": 82.15}, "y": {"datum": 156500, "axis": null}, "text": {"value": "156,500"}}},
    {"data": {"values": [{}]}, "mark": {"type": "text", "align": "left", "baseline": "middle", "color": "#1a30ff"},
     "encoding": {"x": {"datum": 80.4}, "y": {"datum": 150600, "axis": null}, "text": {"value": "-2.31%"}}}
   ]
  },
  {
   "data": {"name": "d"},
   "layer": [
    {"mark": {"type": "line", "color": "#0f8a24", "strokeWidth": 2.5},
     "encoding": {"x": {"field": "i", "type": "quantitative", "scale": {"domain": [-0.5, 79.4], "nice": false, "zero": false}, "axis": null},
      "y": {"field": "ind", "type": "quantitative", "scale": {"domain": [-11571000, 7714000], "nice": false, "zero": false}, "axis": null}}},
    {"mark": {"type": "line", "color": "#ff1010", "strokeWidth": 2.5},
     "encoding": {"x": {"field": "i", "type": "quantitative", "axis": null}, "y": {"field": "frg", "type": "quantitative", "axis": null}}},
    {"mark": {"type": "line", "color": "#0000ff", "strokeWidth": 2.5},
     "encoding": {"x": {"field": "i", "type": "quantitative", "axis": null}, "y": {"field": "ins", "type": "quantitative", "axis": null}}},
    {"data": {"values": [{"t":-11250000},{"t":-10000000},{"t":-8750000},{"t":-7500000},{"t":-6250000},{"t":-5000000},{"t":-3750000},{"t":-2500000},{"t":-1250000},{"t":0},{"t":1250000},{"t":2500000},{"t":3750000},{"t":5000000}]},
     "mark": {"type": "rule", "color": "#707070"},
     "encoding": {"x": {"datum": 79.4, "axis": null}, "x2": {"datum": 79.75}, "y": {"field": "t", "type": "quantitative", "axis": null}}},
    {"data": {"values": [{"t":-5000000,"s":"-5,000,00"},{"t":-7500000,"s":"-7,500,00"},{"t":-10000000,"s":"-10,000,0"}]},
     "mark": {"type": "text", "align": "left", "baseline": "middle", "fontSize": 9.5, "limit": 40, "color": "#000000"},
     "encoding": {"x": {"datum": 79.85, "axis": null}, "y": {"field": "t", "type": "quantitative", "axis": null}, "text": {"field": "s"}}},
    {"data": {"values": [{}]}, "mark": {"type": "rect", "fill": "#e00000"},
     "encoding": {"x": {"datum": 80.05, "axis": null}, "x2": {"datum": 80.82}, "y": {"datum": 7500000, "axis": null}, "y2": {"datum": 6357000}}},
    {"data": {"values": [{}]}, "mark": {"type": "rect", "fill": "#111111"},
     "encoding": {"x": {"datum": 80.92, "axis": null}, "x2": {"datum": 81.69}, "y": {"datum": 7500000, "axis": null}, "y2": {"datum": 6357000}}},
    {"data": {"values": [{}]}, "mark": {"type": "text", "align": "center", "baseline": "middle", "color": "#ffffff", "fontSize": 8, "fontWeight": "bold"},
     "encoding": {"x": {"datum": 80.87, "axis": null}, "y": {"datum": 6928000, "axis": null}, "text": {"value": "L  I"}}},
    {"data": {"values": [{}]}, "mark": {"type": "rule", "color": "#ff0000", "strokeWidth": 1},
     "encoding": {"x": {"datum": 22.75, "axis": null}}}
   ]
  }
 ],
 "resolve": {"scale": {"x": "independent", "y": "independent"}}
},
{
 "width": 728, "height": 66,
 "layer": [
  {"data": {"values": [{"t": 0}, {"t": 2500000}]}, "mark": {"type": "rule", "color": "#c4c4c4"},
   "encoding": {"y": {"field": "t", "type": "quantitative", "scale": {"domain": [-1750000, 3750000], "nice": false, "zero": false}, "axis": null}}},
  {"data": {"name": "d"}, "mark": {"type": "bar", "width": 7, "orient": "vertical"},
   "encoding": {
    "x": {"field": "i", "type": "quantitative", "scale": {"domain": [-0.5, 79.4], "nice": false, "zero": false}, "axis": {"orient": "bottom", "values": [3.5, 22.5, 44.5, 63.5], "grid": true, "gridColor": "#d4d4d4", "labels": false, "ticks": false, "domain": false, "title": null}},
    "y": {"field": "fn", "type": "quantitative", "axis": null},
    "y2": {"datum": 0},
    "color": {"condition": {"test": "datum.fn >= 0", "value": "#ff0000"}, "value": "#0000ff"}}},
  {"data": {"values": [{"t":-1250000},{"t":-625000},{"t":0},{"t":625000},{"t":1250000},{"t":1875000},{"t":2500000}]}, "mark": {"type": "rule", "color": "#707070"},
   "encoding": {"x": {"datum": 79.4}, "x2": {"datum": 79.75}, "y": {"field": "t", "type": "quantitative", "axis": null}}},
  {"data": {"values": [{"t": 0, "s": "0"}, {"t": 2500000, "s": "2,500,00"}]}, "mark": {"type": "text", "align": "left", "baseline": "middle", "fontSize": 9.5, "limit": 40, "color": "#000000"},
   "encoding": {"x": {"datum": 79.85}, "y": {"field": "t", "type": "quantitative", "axis": null}, "text": {"field": "s"}}},
  {"data": {"values": [{}]}, "mark": {"type": "rect", "fill": "#111111"},
   "encoding": {"x": {"datum": 80.05}, "x2": {"datum": 81.69}, "y": {"datum": 3625000, "axis": null}, "y2": {"datum": 2958000}}},
  {"data": {"values": [{}]}, "mark": {"type": "text", "align": "center", "baseline": "middle", "color": "#ffffff", "fontSize": 8, "fontWeight": "bold"},
   "encoding": {"x": {"datum": 80.87}, "y": {"datum": 3292000, "axis": null}, "text": {"value": "L  I"}}},
  {"data": {"values": [{}]}, "mark": {"type": "rect", "fill": "#111111"},
   "encoding": {"x": {"datum": 83.15}, "x2": {"datum": 83.95}, "y": {"datum": 3625000, "axis": null}, "y2": {"datum": 2958000}}},
  {"data": {"values": [{}]}, "mark": {"type": "text", "align": "center", "baseline": "middle", "color": "#ffffff", "fontSize": 8, "fontWeight": "bold"},
   "encoding": {"x": {"datum": 83.55}, "y": {"datum": 3292000, "axis": null}, "text": {"value": "X"}}},
  {"data": {"values": [{}]}, "mark": {"type": "text", "align": "left", "baseline": "top", "dy": 4, "fontSize": 8, "color": "#b8b8b8"},
   "encoding": {"x": {"datum": 0.16}, "y": {"datum": 3750000, "axis": null}, "text": {"value": "■"}}},
  {"data": {"values": [{}]}, "mark": {"type": "text", "align": "left", "baseline": "top", "dy": 2, "color": "#2a9a3a"},
   "encoding": {"x": {"datum": 1.48}, "y": {"datum": 3750000, "axis": null}, "text": {"value": "외국인순매수"}}},
  {"data": {"values": [{}]}, "mark": {"type": "rule", "color": "#ff0000", "strokeWidth": 1}, "encoding": {"x": {"datum": 22.75}}}
 ]
},
{
 "width": 728, "height": 66,
 "layer": [
  {"data": {"values": [{"t": 0}]}, "mark": {"type": "rule", "color": "#c4c4c4"},
   "encoding": {"y": {"field": "t", "type": "quantitative", "scale": {"domain": [-1320000, 660000], "nice": false, "zero": false}, "axis": null}}},
  {"data": {"name": "d"}, "mark": {"type": "bar", "width": 7, "orient": "vertical"},
   "encoding": {
    "x": {"field": "i", "type": "quantitative", "scale": {"domain": [-0.5, 79.4], "nice": false, "zero": false}, "axis": {"orient": "bottom", "values": [3.5, 22.5, 44.5, 63.5], "grid": true, "gridColor": "#d4d4d4", "labels": false, "ticks": false, "domain": false, "title": null}},
    "y": {"field": "tu", "type": "quantitative", "axis": null},
    "y2": {"datum": 0},
    "color": {"condition": {"test": "datum.tu >= 0", "value": "#ff0000"}, "value": "#0000ff"}}},
  {"data": {"values": [{"t":-1200000},{"t":-960000},{"t":-720000},{"t":-480000},{"t":-240000},{"t":0},{"t":240000}]}, "mark": {"type": "rule", "color": "#707070"},
   "encoding": {"x": {"datum": 79.4}, "x2": {"datum": 79.75}, "y": {"field": "t", "type": "quantitative", "axis": null}}},
  {"data": {"values": [{"t": 0, "s": "0"}]}, "mark": {"type": "text", "align": "left", "baseline": "middle", "fontSize": 9.5, "limit": 40, "color": "#000000"},
   "encoding": {"x": {"datum": 79.85}, "y": {"field": "t", "type": "quantitative", "axis": null}, "text": {"field": "s"}}},
  {"data": {"values": [{}]}, "mark": {"type": "rect", "fill": "#111111"},
   "encoding": {"x": {"datum": 80.05}, "x2": {"datum": 81.69}, "y": {"datum": 615000, "axis": null}, "y2": {"datum": 375000}}},
  {"data": {"values": [{}]}, "mark": {"type": "text", "align": "center", "baseline": "middle", "color": "#ffffff", "fontSize": 8, "fontWeight": "bold"},
   "encoding": {"x": {"datum": 80.87}, "y": {"datum": 495000, "axis": null}, "text": {"value": "L  I"}}},
  {"data": {"values": [{}]}, "mark": {"type": "rect", "fill": "#111111"},
   "encoding": {"x": {"datum": 83.15}, "x2": {"datum": 83.95}, "y": {"datum": 615000, "axis": null}, "y2": {"datum": 375000}}},
  {"data": {"values": [{}]}, "mark": {"type": "text", "align": "center", "baseline": "middle", "color": "#ffffff", "fontSize": 8, "fontWeight": "bold"},
   "encoding": {"x": {"datum": 83.55}, "y": {"datum": 495000, "axis": null}, "text": {"value": "X"}}},
  {"data": {"values": [{}]}, "mark": {"type": "text", "align": "left", "baseline": "top", "dy": 4, "fontSize": 8, "color": "#b8b8b8"},
   "encoding": {"x": {"datum": 0.16}, "y": {"datum": 660000, "axis": null}, "text": {"value": "■"}}},
  {"data": {"values": [{}]}, "mark": {"type": "text", "align": "left", "baseline": "top", "dy": 2, "color": "#2a9a3a"},
   "encoding": {"x": {"datum": 1.48}, "y": {"datum": 660000, "axis": null}, "text": {"value": "투신"}}},
  {"data": {"values": [{}]}, "mark": {"type": "rule", "color": "#ff0000", "strokeWidth": 1}, "encoding": {"x": {"datum": 22.75}}}
 ]
},
{
 "width": 728, "height": 66,
 "layer": [
  {"data": {"values": [{"t": 0}]}, "mark": {"type": "rule", "color": "#c4c4c4"},
   "encoding": {"y": {"field": "t", "type": "quantitative", "scale": {"domain": [-909000, 1071000], "nice": false, "zero": false}, "axis": null}}},
  {"data": {"name": "d"}, "mark": {"type": "bar", "width": 7, "orient": "vertical"},
   "encoding": {
    "x": {"field": "i", "type": "quantitative", "scale": {"domain": [-0.5, 79.4], "nice": false, "zero": false}, "axis": {"orient": "bottom", "values": [3.5, 22.5, 44.5, 63.5], "grid": true, "gridColor": "#d4d4d4", "labels": false, "ticks": false, "domain": false, "title": null}},
    "y": {"field": "se", "type": "quantitative", "axis": null},
    "y2": {"datum": 0},
    "color": {"condition": {"test": "datum.se >= 0", "value": "#ff0000"}, "value": "#0000ff"}}},
  {"data": {"values": [{"t":-720000},{"t":-480000},{"t":-240000},{"t":0},{"t":240000},{"t":480000},{"t":720000}]}, "mark": {"type": "rule", "color": "#707070"},
   "encoding": {"x": {"datum": 79.4}, "x2": {"datum": 79.75}, "y": {"field": "t", "type": "quantitative", "axis": null}}},
  {"data": {"values": [{"t": 0, "s": "0"}]}, "mark": {"type": "text", "align": "left", "baseline": "middle", "fontSize": 9.5, "limit": 40, "color": "#000000"},
   "encoding": {"x": {"datum": 79.85}, "y": {"field": "t", "type": "quantitative", "axis": null}, "text": {"field": "s"}}},
  {"data": {"values": [{}]}, "mark": {"type": "rect", "fill": "#111111"},
   "encoding": {"x": {"datum": 80.05}, "x2": {"datum": 81.69}, "y": {"datum": 1026000, "axis": null}, "y2": {"datum": 786000}}},
  {"data": {"values": [{}]}, "mark": {"type": "text", "align": "center", "baseline": "middle", "color": "#ffffff", "fontSize": 8, "fontWeight": "bold"},
   "encoding": {"x": {"datum": 80.87}, "y": {"datum": 906000, "axis": null}, "text": {"value": "L  I"}}},
  {"data": {"values": [{}]}, "mark": {"type": "rect", "fill": "#111111"},
   "encoding": {"x": {"datum": 83.15}, "x2": {"datum": 83.95}, "y": {"datum": 1026000, "axis": null}, "y2": {"datum": 786000}}},
  {"data": {"values": [{}]}, "mark": {"type": "text", "align": "center", "baseline": "middle", "color": "#ffffff", "fontSize": 8, "fontWeight": "bold"},
   "encoding": {"x": {"datum": 83.55}, "y": {"datum": 906000, "axis": null}, "text": {"value": "X"}}},
  {"data": {"values": [{}]}, "mark": {"type": "text", "align": "left", "baseline": "top", "dy": 4, "fontSize": 8, "color": "#b8b8b8"},
   "encoding": {"x": {"datum": 0.16}, "y": {"datum": 1071000, "axis": null}, "text": {"value": "■"}}},
  {"data": {"values": [{}]}, "mark": {"type": "text", "align": "left", "baseline": "top", "dy": 2, "color": "#2a9a3a"},
   "encoding": {"x": {"datum": 1.48}, "y": {"datum": 1071000, "axis": null}, "text": {"value": "증권"}}},
  {"data": {"values": [{}]}, "mark": {"type": "rule", "color": "#ff0000", "strokeWidth": 1}, "encoding": {"x": {"datum": 22.75}}}
 ]
},
{
 "width": 728, "height": 66,
 "layer": [
  {"data": {"values": [{"t": 0}]}, "mark": {"type": "rule", "color": "#c4c4c4"},
   "encoding": {"y": {"field": "t", "type": "quantitative", "scale": {"domain": [-1050000, 930000], "nice": false, "zero": false}, "axis": null}}},
  {"data": {"name": "d"}, "mark": {"type": "bar", "width": 7, "orient": "vertical"},
   "encoding": {
    "x": {"field": "i", "type": "quantitative", "scale": {"domain": [-0.5, 79.4], "nice": false, "zero": false}, "axis": {"orient": "bottom", "values": [3.5, 22.5, 44.5, 63.5], "grid": true, "gridColor": "#d4d4d4", "labels": false, "ticks": false, "domain": false, "title": null}},
    "y": {"field": "fu", "type": "quantitative", "axis": null},
    "y2": {"datum": 0},
    "color": {"condition": {"test": "datum.fu >= 0", "value": "#ff0000"}, "value": "#0000ff"}}},
  {"data": {"values": [{"t":-960000},{"t":-720000},{"t":-480000},{"t":-240000},{"t":0},{"t":240000},{"t":480000}]}, "mark": {"type": "rule", "color": "#707070"},
   "encoding": {"x": {"datum": 79.4}, "x2": {"datum": 79.75}, "y": {"field": "t", "type": "quantitative", "axis": null}}},
  {"data": {"values": [{"t": 0, "s": "0"}]}, "mark": {"type": "text", "align": "left", "baseline": "middle", "fontSize": 9.5, "limit": 40, "color": "#000000"},
   "encoding": {"x": {"datum": 79.85}, "y": {"field": "t", "type": "quantitative", "axis": null}, "text": {"field": "s"}}},
  {"data": {"values": [{}]}, "mark": {"type": "rect", "fill": "#111111"},
   "encoding": {"x": {"datum": 80.05}, "x2": {"datum": 81.69}, "y": {"datum": 885000, "axis": null}, "y2": {"datum": 645000}}},
  {"data": {"values": [{}]}, "mark": {"type": "text", "align": "center", "baseline": "middle", "color": "#ffffff", "fontSize": 8, "fontWeight": "bold"},
   "encoding": {"x": {"datum": 80.87}, "y": {"datum": 765000, "axis": null}, "text": {"value": "L  I"}}},
  {"data": {"values": [{}]}, "mark": {"type": "rect", "fill": "#111111"},
   "encoding": {"x": {"datum": 83.15}, "x2": {"datum": 83.95}, "y": {"datum": 885000, "axis": null}, "y2": {"datum": 645000}}},
  {"data": {"values": [{}]}, "mark": {"type": "text", "align": "center", "baseline": "middle", "color": "#ffffff", "fontSize": 8, "fontWeight": "bold"},
   "encoding": {"x": {"datum": 83.55}, "y": {"datum": 765000, "axis": null}, "text": {"value": "X"}}},
  {"data": {"values": [{}]}, "mark": {"type": "text", "align": "left", "baseline": "top", "dy": 4, "fontSize": 8, "color": "#b8b8b8"},
   "encoding": {"x": {"datum": 0.16}, "y": {"datum": 930000, "axis": null}, "text": {"value": "■"}}},
  {"data": {"values": [{}]}, "mark": {"type": "text", "align": "left", "baseline": "top", "dy": 2, "color": "#2a9a3a"},
   "encoding": {"x": {"datum": 1.48}, "y": {"datum": 930000, "axis": null}, "text": {"value": "기금"}}},
  {"data": {"values": [{}]}, "mark": {"type": "rule", "color": "#ff0000", "strokeWidth": 1}, "encoding": {"x": {"datum": 22.75}}}
 ]
},
{
 "width": 728, "height": 66,
 "layer": [
  {"data": {"values": [{"t": 2000000}]}, "mark": {"type": "rule", "color": "#c4c4c4"},
   "encoding": {"y": {"field": "t", "type": "quantitative", "scale": {"domain": [1742000, 2138000], "nice": false, "zero": false}, "axis": null}}},
  {"data": {"name": "d"}, "mark": {"type": "line", "color": "#9ad89a", "strokeWidth": 3.2},
   "encoding": {
    "x": {"field": "i", "type": "quantitative", "scale": {"domain": [-0.5, 79.4], "nice": false, "zero": false}, "axis": {"orient": "bottom", "values": [3.5, 22.5, 44.5, 63.5], "grid": true, "gridColor": "#d4d4d4", "labels": false, "ticks": false, "domain": false, "title": null}},
    "y": {"field": "cr", "type": "quantitative", "axis": null}}},
  {"data": {"name": "d"}, "mark": {"type": "line", "color": "#1f8a2f", "strokeWidth": 1.2},
   "encoding": {"x": {"field": "i", "type": "quantitative"}, "y": {"field": "cr", "type": "quantitative", "axis": null}}},
  {"data": {"values": [{"t":1760000},{"t":1808000},{"t":1856000},{"t":1904000},{"t":1952000},{"t":2000000},{"t":2048000}]}, "mark": {"type": "rule", "color": "#707070"},
   "encoding": {"x": {"datum": 79.4}, "x2": {"datum": 79.75}, "y": {"field": "t", "type": "quantitative", "axis": null}}},
  {"data": {"values": [{"t": 2000000, "s": "2,000,00"}]}, "mark": {"type": "text", "align": "left", "baseline": "middle", "fontSize": 9.5, "limit": 40, "color": "#000000"},
   "encoding": {"x": {"datum": 79.85}, "y": {"field": "t", "type": "quantitative", "axis": null}, "text": {"field": "s"}}},
  {"data": {"values": [{}]}, "mark": {"type": "rect", "fill": "#e00000"},
   "encoding": {"x": {"datum": 80.05}, "x2": {"datum": 80.82}, "y": {"datum": 2129000, "axis": null}, "y2": {"datum": 2081000}}},
  {"data": {"values": [{}]}, "mark": {"type": "rect", "fill": "#111111"},
   "encoding": {"x": {"datum": 80.92}, "x2": {"datum": 81.69}, "y": {"datum": 2129000, "axis": null}, "y2": {"datum": 2081000}}},
  {"data": {"values": [{}]}, "mark": {"type": "text", "align": "center", "baseline": "middle", "color": "#ffffff", "fontSize": 8, "fontWeight": "bold"},
   "encoding": {"x": {"datum": 80.87}, "y": {"datum": 2105000, "axis": null}, "text": {"value": "L  I"}}},
  {"data": {"values": [{}]}, "mark": {"type": "rect", "fill": "#111111"},
   "encoding": {"x": {"datum": 83.15}, "x2": {"datum": 83.95}, "y": {"datum": 2129000, "axis": null}, "y2": {"datum": 2081000}}},
  {"data": {"values": [{}]}, "mark": {"type": "text", "align": "center", "baseline": "middle", "color": "#ffffff", "fontSize": 8, "fontWeight": "bold"},
   "encoding": {"x": {"datum": 83.55}, "y": {"datum": 2105000, "axis": null}, "text": {"value": "X"}}},
  {"data": {"values": [{}]}, "mark": {"type": "text", "align": "left", "baseline": "top", "dy": 4, "fontSize": 8, "color": "#b8b8b8"},
   "encoding": {"x": {"datum": 0.16}, "y": {"datum": 2138000, "axis": null}, "text": {"value": "■"}}},
  {"data": {"values": [{}]}, "mark": {"type": "text", "align": "left", "baseline": "top", "dy": 2, "color": "#2a9a3a"},
   "encoding": {"x": {"datum": 1.48}, "y": {"datum": 2138000, "axis": null}, "text": {"value": "신용융자잔고율"}}},
  {"data": {"values": [{}]}, "mark": {"type": "text", "align": "left", "baseline": "top", "dy": 4, "fontSize": 8, "color": "#b8b8b8"},
   "encoding": {"x": {"datum": 10.04}, "y": {"datum": 2138000, "axis": null}, "text": {"value": "■"}}},
  {"data": {"values": [{}]}, "mark": {"type": "text", "align": "left", "baseline": "top", "dy": 2, "color": "#2a9a3a"},
   "encoding": {"x": {"datum": 11.35}, "y": {"datum": 2138000, "axis": null}, "text": {"value": "신용융자잔고"}}},
  {"data": {"values": [{}]}, "mark": {"type": "rule", "color": "#ff0000", "strokeWidth": 1}, "encoding": {"x": {"datum": 22.75}}}
 ]
},
{
 "width": 728, "height": 66,
 "layer": [
  {"data": {"values": [{"t": 50}]}, "mark": {"type": "rule", "color": "#c4c4c4"},
   "encoding": {"y": {"field": "t", "type": "quantitative", "scale": {"domain": [0, 78], "nice": false, "zero": true}, "axis": null}}},
  {"data": {"name": "d"}, "mark": {"type": "bar", "width": 7, "orient": "vertical", "color": "#0a8a28"},
   "encoding": {
    "x": {"field": "i", "type": "quantitative", "scale": {"domain": [-0.5, 79.4], "nice": false, "zero": false}, "axis": {"orient": "bottom", "values": [3.5, 22.5, 44.5, 63.5], "grid": true, "gridColor": "#d4d4d4", "labels": false, "ticks": false, "domain": false, "title": null}},
    "y": {"field": "nw", "type": "quantitative", "axis": null},
    "y2": {"datum": 0}}},
  {"data": {"values": [{"t":10},{"t":20},{"t":30},{"t":40},{"t":50},{"t":60}]}, "mark": {"type": "rule", "color": "#707070"},
   "encoding": {"x": {"datum": 79.4}, "x2": {"datum": 79.75}, "y": {"field": "t", "type": "quantitative", "axis": null}}},
  {"data": {"values": [{"t": 50, "s": "50"}]}, "mark": {"type": "text", "align": "left", "baseline": "middle", "fontSize": 9.5, "limit": 40, "color": "#000000"},
   "encoding": {"x": {"datum": 79.85}, "y": {"field": "t", "type": "quantitative", "axis": null}, "text": {"field": "s"}}},
  {"data": {"values": [{}]}, "mark": {"type": "rect", "fill": "#111111"},
   "encoding": {"x": {"datum": 80.05}, "x2": {"datum": 81.69}, "y": {"datum": 76.2, "axis": null}, "y2": {"datum": 66.8}}},
  {"data": {"values": [{}]}, "mark": {"type": "text", "align": "center", "baseline": "middle", "color": "#ffffff", "fontSize": 8, "fontWeight": "bold"},
   "encoding": {"x": {"datum": 80.87}, "y": {"datum": 71.5, "axis": null}, "text": {"value": "L  I"}}},
  {"data": {"values": [{}]}, "mark": {"type": "rect", "fill": "#111111"},
   "encoding": {"x": {"datum": 83.15}, "x2": {"datum": 83.95}, "y": {"datum": 76.2, "axis": null}, "y2": {"datum": 66.8}}},
  {"data": {"values": [{}]}, "mark": {"type": "text", "align": "center", "baseline": "middle", "color": "#ffffff", "fontSize": 8, "fontWeight": "bold"},
   "encoding": {"x": {"datum": 83.55}, "y": {"datum": 71.5, "axis": null}, "text": {"value": "X"}}},
  {"data": {"values": [{}]}, "mark": {"type": "text", "align": "left", "baseline": "top", "dy": 4, "fontSize": 8, "color": "#b8b8b8"},
   "encoding": {"x": {"datum": 0.16}, "y": {"datum": 78, "axis": null}, "text": {"value": "■"}}},
  {"data": {"values": [{}]}, "mark": {"type": "text", "align": "left", "baseline": "top", "dy": 2, "color": "#2a9a3a"},
   "encoding": {"x": {"datum": 1.48}, "y": {"datum": 78, "axis": null}, "text": {"value": "뉴스"}}},
  {"data": {"values": [{}]}, "mark": {"type": "rule", "color": "#ff0000", "strokeWidth": 1}, "encoding": {"x": {"datum": 22.75}}}
 ]
},
{
 "width": 728, "height": 66,
 "layer": [
  {"data": {"values": [{"t": 5000000}]}, "mark": {"type": "rule", "color": "#c4c4c4"},
   "encoding": {"y": {"field": "t", "type": "quantitative", "scale": {"domain": [0, 10640000], "nice": false, "zero": true}, "axis": null}}},
  {"data": {"name": "d"}, "mark": {"type": "bar", "width": 7.5, "orient": "vertical"},
   "encoding": {
    "x": {"field": "i", "type": "quantitative", "scale": {"domain": [-0.5, 79.4], "nice": false, "zero": false},
     "axis": {"orient": "bottom", "values": [-0.5, 3.5, 22.5, 44.5, 63.5], "grid": true, "gridColor": "#d4d4d4", "labels": true,
      "labelExpr": "datum.value < 0 ? '2023/11' : datum.value < 4 ? '12' : datum.value < 23 ? '2024/01' : datum.value < 45 ? '02' : '03'",
      "labelAlign": "left", "labelBaseline": "top", "labelPadding": -13, "labelDx": 1.5, "labelFlush": false, "labelOverlap": false, "labelFontSize": 10,
      "ticks": true, "tickSize": 15, "tickColor": "#c4c4c4", "domain": true, "domainColor": "#909090",
      "title": "03/20", "titleX": 737, "titleY": 2, "titleAlign": "left", "titleBaseline": "top", "titleFontWeight": "normal", "titleFontSize": 10}},
    "y": {"field": "v", "type": "quantitative", "axis": null},
    "y2": {"datum": 0},
    "color": {"condition": {"test": "datum.vu == 1", "value": "#f0200c"}, "value": "#1f62d8"}}},
  {"data": {"name": "d"}, "mark": {"type": "line", "color": "#3cc080", "strokeWidth": 1.2},
   "encoding": {"x": {"field": "i", "type": "quantitative"}, "y": {"field": "v60", "type": "quantitative", "axis": null}}},
  {"data": {"name": "d"}, "mark": {"type": "line", "color": "#1c1cff", "strokeWidth": 1.2},
   "encoding": {"x": {"field": "i", "type": "quantitative"}, "y": {"field": "v20", "type": "quantitative", "axis": null}}},
  {"data": {"name": "d"}, "mark": {"type": "line", "color": "#ffb400", "strokeWidth": 1.2},
   "encoding": {"x": {"field": "i", "type": "quantitative"}, "y": {"field": "v10", "type": "quantitative", "axis": null}}},
  {"data": {"name": "d"}, "mark": {"type": "line", "color": "#ff3030", "strokeWidth": 1},
   "encoding": {"x": {"field": "i", "type": "quantitative"}, "y": {"field": "v5", "type": "quantitative", "axis": null}}},
  {"data": {"values": [{"t":1250000},{"t":2500000},{"t":3750000},{"t":5000000},{"t":6250000},{"t":7500000},{"t":8750000}]}, "mark": {"type": "rule", "color": "#707070"},
   "encoding": {"x": {"datum": 79.4}, "x2": {"datum": 79.75}, "y": {"field": "t", "type": "quantitative", "axis": null}}},
  {"data": {"values": [{"t": 5000000, "s": "5,000,00"}]}, "mark": {"type": "text", "align": "left", "baseline": "middle", "fontSize": 9.5, "limit": 40, "color": "#000000"},
   "encoding": {"x": {"datum": 79.85}, "y": {"field": "t", "type": "quantitative", "axis": null}, "text": {"field": "s"}}},
  {"data": {"values": [{}]}, "mark": {"type": "rect", "fill": "#111111"},
   "encoding": {"x": {"datum": 80.05}, "x2": {"datum": 81.69}, "y": {"datum": 10398000, "axis": null}, "y2": {"datum": 9108000}}},
  {"data": {"values": [{}]}, "mark": {"type": "text", "align": "center", "baseline": "middle", "color": "#ffffff", "fontSize": 8, "fontWeight": "bold"},
   "encoding": {"x": {"datum": 80.87}, "y": {"datum": 9753000, "axis": null}, "text": {"value": "L  I"}}},
  {"data": {"values": [{}]}, "mark": {"type": "rect", "fill": "#111111"},
   "encoding": {"x": {"datum": 83.15}, "x2": {"datum": 83.95}, "y": {"datum": 10398000, "axis": null}, "y2": {"datum": 9108000}}},
  {"data": {"values": [{}]}, "mark": {"type": "text", "align": "center", "baseline": "middle", "color": "#ffffff", "fontSize": 8, "fontWeight": "bold"},
   "encoding": {"x": {"datum": 83.55}, "y": {"datum": 9753000, "axis": null}, "text": {"value": "X"}}},
  {"data": {"values": [{}]}, "mark": {"type": "text", "align": "left", "baseline": "top", "dy": 4, "fontSize": 8, "color": "#b8b8b8"},
   "encoding": {"x": {"datum": 0.16}, "y": {"datum": 10640000, "axis": null}, "text": {"value": "■"}}},
  {"data": {"values": [{}]}, "mark": {"type": "text", "align": "left", "baseline": "top", "dy": 2, "color": "#3a9a9a"},
   "encoding": {"x": {"datum": 1.48}, "y": {"datum": 10640000, "axis": null}, "text": {"value": "거래량"}}},
  {"data": {"values": [{}]}, "mark": {"type": "text", "align": "left", "baseline": "top", "dy": 2, "color": "#ff2020"},
   "encoding": {"x": {"datum": 5.76}, "y": {"datum": 10640000, "axis": null}, "text": {"value": "단순 5"}}},
  {"data": {"values": [{}]}, "mark": {"type": "text", "align": "left", "baseline": "top", "dy": 2, "color": "#f0b000"},
   "encoding": {"x": {"datum": 9.6}, "y": {"datum": 10640000, "axis": null}, "text": {"value": "10"}}},
  {"data": {"values": [{}]}, "mark": {"type": "text", "align": "left", "baseline": "top", "dy": 2, "color": "#1c1cff"},
   "encoding": {"x": {"datum": 11.25}, "y": {"datum": 10640000, "axis": null}, "text": {"value": "20"}}},
  {"data": {"values": [{}]}, "mark": {"type": "text", "align": "left", "baseline": "top", "dy": 2, "color": "#30b070"},
   "encoding": {"x": {"datum": 13.1}, "y": {"datum": 10640000, "axis": null}, "text": {"value": "60"}}},
  {"data": {"values": [{}]}, "mark": {"type": "text", "align": "left", "baseline": "top", "dy": 14, "color": "#000000"},
   "encoding": {"x": {"datum": -0.17}, "y": {"datum": 10640000, "axis": null}, "text": {"value": "5,663,257주(140.76%)"}}},
  {"data": {"values": [{}]}, "mark": {"type": "rule", "color": "#ff0000", "strokeWidth": 1}, "encoding": {"x": {"datum": 22.75}}}
 ]
}
]
}
